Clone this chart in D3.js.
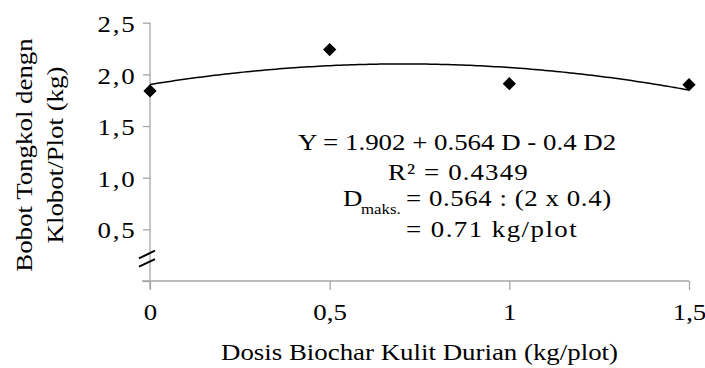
<!DOCTYPE html>
<html>
<head>
<meta charset="utf-8">
<script src="https://cdn.jsdelivr.net/npm/d3@7"></script>
<style>
  html, body { margin: 0; padding: 0; background: #fff; }
  svg { display: block; }
  text { font-family: "Liberation Serif", "Times New Roman", serif; fill: #000; }
</style>
</head>
<body>
<svg id="chart" width="705" height="368"></svg>
<script>
// Dosis biochar (kg/plot) and observed cob weight with husk (kg/plot)
const doses = [0, 0.5, 1, 1.5];
const weights = [1.84, 2.24, 1.91, 1.90];

// Quadratic fit Y = a + bD + cD^2
const coefA = 1.902, coefB = 0.564, coefC = -0.4;

const yTicks = [0.5, 1.0, 1.5, 2.0, 2.5];
const yTickLabels = ["0,5", "1,0", "1,5", "2,0", "2,5"];
const xTicks = [0, 0.5, 1, 1.5];
const xTickLabels = ["0", "0,5", "1", "1,5"];

const yTitleLines = ["Bobot Tongkol dengn", "Klobot/Plot (kg)"];
const xTitle = "Dosis Biochar Kulit Durian (kg/plot)";

const svg = d3.select("#chart");
const axisColor = "#a6a6a6";
const fontSize = 24;
const wide = 1.12;   // horizontal glyph stretch for all text

const x = d3.scaleLinear().domain([0, 1.5]).range([150, 689]);
const y = d3.scaleLinear().domain([0, 2.5]).range([281, 22.7]);

// place a stretched text at (px, py), optionally rotated
function addText(parent, px, py, str, opts = {}) {
  const rot = opts.rotate ? ` rotate(${opts.rotate})` : "";
  return parent.append("text")
    .attr("transform", `translate(${px},${py})${rot} scale(${wide},1)`)
    .attr("text-anchor", opts.anchor || "start")
    .style("font-size", (opts.size || fontSize) + "px")
    .style("letter-spacing", (opts.spacing || 0) + "px")
    .text(str);
}

// Y axis
const yAxis = d3.axisLeft(y).tickValues([0].concat(yTicks)).tickSize(7)
  .tickFormat(d => d === 0 ? "" : yTickLabels[yTicks.indexOf(d)]);
const gy = svg.append("g").attr("transform", `translate(${x(0)},0)`).call(yAxis);
gy.select(".domain").remove();
gy.append("line").attr("x1", 0).attr("x2", 0).attr("y1", y(2.5)).attr("y2", y(0) + 8)
  .attr("stroke", axisColor).attr("stroke-width", 1.3);
gy.selectAll(".tick line").attr("stroke", axisColor).attr("stroke-width", 1.3);
gy.selectAll(".tick text")
  .attr("x", -13.5 / wide).attr("dy", "0.36em")
  .attr("transform", `scale(${wide},1)`)
  .style("letter-spacing", "1.6px")
  .style("font-size", fontSize + "px").style("font-family", "Liberation Serif");

// X axis
const xAxis = d3.axisBottom(x).tickValues(xTicks).tickSize(9)
  .tickFormat((d, i) => xTickLabels[i]);
const gx = svg.append("g").attr("transform", `translate(0,${y(0)})`).call(xAxis);
gx.select(".domain").remove();
gx.append("line").attr("x1", x(0) - 8).attr("x2", x(1.5)).attr("y1", 0).attr("y2", 0)
  .attr("stroke", axisColor).attr("stroke-width", 1.3);
gx.selectAll(".tick line").attr("stroke", axisColor).attr("stroke-width", 1.3);
gx.selectAll(".tick text").attr("y", 22).attr("dy", "0.71em")
  .attr("transform", `scale(${wide},1)`)
  .style("font-size", fontSize + "px").style("font-family", "Liberation Serif");

// Axis break marks
const brk = svg.append("g").attr("stroke", "#000").attr("stroke-width", 2);
[0, 8.4].forEach(off => {
  brk.append("line")
    .attr("x1", x(0) - 11).attr("y1", 258.3 + off)
    .attr("x2", x(0) + 5).attr("y2", 250.7 + off);
});

// Trend curve
const curveData = d3.range(0, 1.5001, 0.01).map(d => [d, coefA + coefB * d + coefC * d * d]);
svg.append("path")
  .datum(curveData)
  .attr("fill", "none").attr("stroke", "#000").attr("stroke-width", 1.5)
  .attr("d", d3.line().x(d => x(d[0])).y(d => y(d[1])));

// Observed points
const diamond = d3.symbol().type(d3.symbolSquare).size(88);
svg.append("g").selectAll("path")
  .data(doses.map((d, i) => [d, weights[i]]))
  .join("path")
  .attr("d", diamond)
  .attr("transform", d => `translate(${x(d[0])},${y(d[1])}) rotate(45)`)
  .attr("fill", "#000");

// Axis titles
addText(svg, (x(0) + x(1.5)) / 2, 360, xTitle, { anchor: "middle" });
addText(svg, 32, 155, yTitleLines[0], { anchor: "middle", rotate: -90 });
addText(svg, 63, 155, yTitleLines[1], { anchor: "middle", rotate: -90 });

// Regression annotation
const ann = svg.append("g");
addText(ann, 298, 150, `Y = ${coefA} + ${coefB} D - ${-coefC} D2`);
addText(ann, 388, 180, "R² = 0.4349", { spacing: 1 });
addText(ann, 343, 206, "D");
addText(ann, 361, 214, "maks.", { size: 15 });
addText(ann, 406, 206, `= ${coefB} : (2 x ${-coefC})`, { spacing: 0.5 });
addText(ann, 406, 237, "= 0.71 kg/plot", { spacing: 1.3 });
</script>
</body>
</html>
